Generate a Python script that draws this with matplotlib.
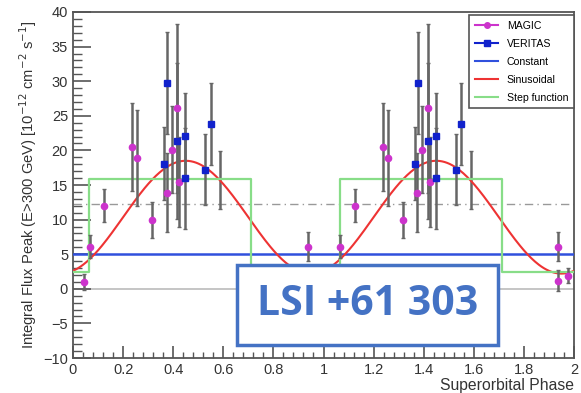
import numpy as np
import matplotlib.pyplot as plt
from matplotlib.patches import Rectangle
from matplotlib.ticker import MultipleLocator

plt.rcParams['font.family'] = ['Liberation Sans', 'DejaVu Sans']

# MAGIC points (phase, flux, error), one superorbital period
magic_phase = [0.044, 0.067, 0.124, 0.236, 0.256, 0.316, 0.375, 0.395, 0.417, 0.425, 0.937, 0.935, 0.975]
magic_flux = [1.0, 6.1, 12.0, 20.5, 18.9, 10.0, 13.9, 20.1, 26.1, 15.4, 6.1, 1.2, 1.9]
magic_err = [1.2, 1.7, 2.4, 6.3, 7.0, 2.6, 5.7, 6.3, 12.2, 6.5, 2.1, 1.5, 1.1]

# VERITAS points
veritas_phase = [0.365, 0.376, 0.417, 0.448, 0.448, 0.527, 0.549]
veritas_flux = [18.1, 29.7, 21.4, 22.1, 16.0, 17.2, 23.8]
veritas_err = [5.3, 7.4, 11.3, 6.2, 7.3, 5.1, 5.9]
# one bar whose marker sits under the step line
hidden_phase = [0.588]
hidden_flux = [15.7]
hidden_err = [4.2]

# fit results
const_level = 5.1
sin_mean, sin_amp, sin_peak = 10.35, 8.15, 0.45
step_low, step_high = 2.5, 15.8
step_up, step_down = 0.065, 0.71
ref_level = 12.3

fig = plt.figure(figsize=(5.81, 3.93), dpi=100)
ax = fig.add_axes([0.1256, 0.089, 0.8624, 0.8805])

ax.axhline(0, color='#bbbbbb', lw=1.2, zorder=1)
ax.axhline(ref_level, color='#999999', lw=1.0, ls=(0, (6, 3, 1, 3)), zorder=1)


def two_periods(p, f, e):
    return (np.concatenate([p, np.array(p) + 1]), np.concatenate([f, f]), np.concatenate([e, e]))


mp, mf, me = two_periods(magic_phase, magic_flux, magic_err)
vp, vf, ve = two_periods(veritas_phase, veritas_flux, veritas_err)
hp, hf, he = two_periods(hidden_phase, hidden_flux, hidden_err)

ax.errorbar(hp, hf, yerr=he, fmt='none', ecolor='#666666', elinewidth=1.8, capsize=1.5, capthick=1, zorder=2)
ax.errorbar(mp, mf, yerr=me, fmt='o', color='#cc33cc', ms=4.5, ecolor='#666666',
            elinewidth=1.8, capsize=1.5, capthick=1, zorder=4)
ax.errorbar(vp, vf, yerr=ve, fmt='s', color='#1122cc', ms=4.5, ecolor='#666666',
            elinewidth=1.8, capsize=1.5, capthick=1, zorder=4)

ph = np.linspace(0, 2, 400)
ax.plot(ph, np.full_like(ph, const_level), color='#3050dd', lw=1.8, zorder=3)
ax.plot(ph, sin_mean + sin_amp * np.cos(2 * np.pi * (ph - sin_peak)), color='#ee3333', lw=1.5, zorder=3)
frac = ph % 1
step = np.where((frac >= step_up) & (frac < step_down), step_high, step_low)
ax.step(ph, step, where='post', color='#88dd88', lw=1.6, zorder=3)

# legend handles
h1, = ax.plot([], [], '-o', color='#cc33cc', ms=4)
h2, = ax.plot([], [], '-s', color='#1122cc', ms=4)
h3, = ax.plot([], [], color='#3050dd', lw=1.5)
h4, = ax.plot([], [], color='#ee3333', lw=1.5)
h5, = ax.plot([], [], color='#88dd88', lw=1.5)
leg = ax.legend([h1, h2, h3, h4, h5], ['MAGIC', 'VERITAS', 'Constant', 'Sinusoidal', 'Step function'],
                loc='upper right', bbox_to_anchor=(1.0, 0.991), borderaxespad=0, fontsize=7.6,
                fancybox=False, framealpha=1, edgecolor='#555555', handlelength=2.2,
                borderpad=0.55, labelspacing=0.75)
leg.get_frame().set_linewidth(1.2)

ax.set_xlim(0, 2)
ax.set_ylim(-10, 40)
ax.xaxis.set_minor_locator(MultipleLocator(0.04))
ax.yaxis.set_major_locator(MultipleLocator(5))
ax.yaxis.set_minor_locator(MultipleLocator(1))
ax.set_xticks(np.arange(0, 2.01, 0.2))
ax.set_xticklabels(['0', '0.2', '0.4', '0.6', '0.8', '1', '1.2', '1.4', '1.6', '1.8', '2'])
ax.tick_params(which='both', direction='in', colors='#555555', labelcolor='#333333', labelsize=10.5)
ax.tick_params(axis='y', which='major', length=13, width=1.2)
ax.tick_params(axis='y', which='minor', length=6.5, width=1.0)
ax.tick_params(axis='x', which='major', length=9, width=1.2)
ax.tick_params(axis='x', which='minor', length=4.5, width=1.0)
for s in ax.spines.values():
    s.set_color('#555555')
    s.set_linewidth(1.3)

ax.set_ylabel('Integral Flux Peak (E>300 GeV) [10$^{-12}$ cm$^{-2}$ s$^{-1}$]',
              fontsize=10.6, color='#333333', labelpad=3)
ax.set_xlabel('Superorbital Phase', fontsize=11.3, color='#333333', loc='right', labelpad=1)

# source label box
fig.add_artist(Rectangle((0.408, 0.122), 0.449, 0.204, transform=fig.transFigure,
                         facecolor='white', edgecolor='#4472c4', lw=2.5, zorder=10))
fig.text(0.6325, 0.224, 'LSI +61 303', color='#4472c4', fontsize=29.5, fontweight='bold',
         family=['Open Sans', 'DejaVu Sans'], ha='center', va='center', zorder=11)

fig.savefig('out.png', dpi=100)
